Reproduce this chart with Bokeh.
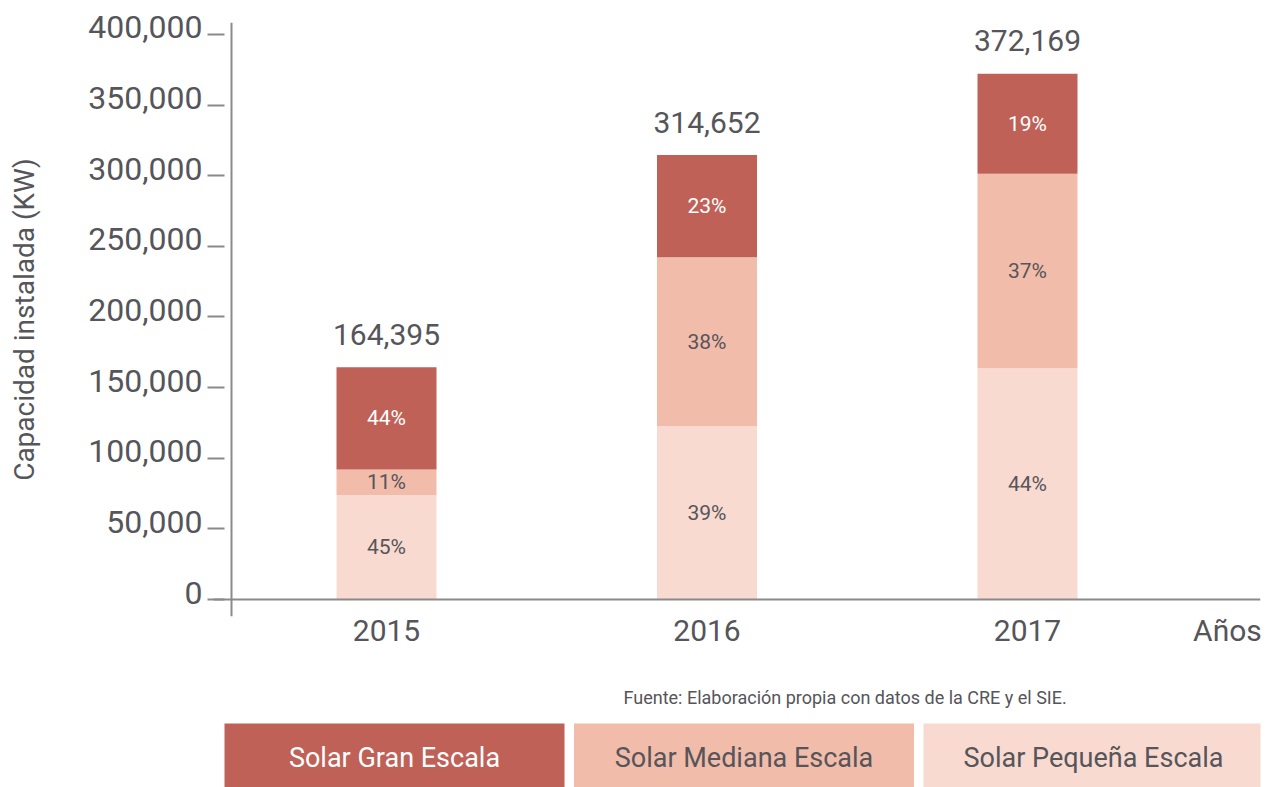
from bokeh.plotting import figure
from bokeh.models import Range1d, FixedTicker, NumeralTickFormatter, Span, ColumnDataSource, LinearAxis
from bokeh.layouts import column
from bokeh.embed import file_html
from bokeh.resources import INLINE
from bokeh.core.properties import value

# ---------------- data ----------------
years = ["2015", "2016", "2017"]
totals = [164395, 314652, 372169]
series = ["Solar Pequeña Escala", "Solar Mediana Escala", "Solar Gran Escala"]  # bottom -> top
pct_pequena = [45, 39, 44]
pct_mediana = [11, 38, 37]
pct_gran = [44, 23, 19]
y_ticks = [0, 50000, 100000, 150000, 200000, 250000, 300000, 350000, 400000]
x_title = "Años"
y_title = "Capacidad instalada (KW)"
source_note = "Fuente: Elaboración propia con datos de la CRE y el SIE."

colors = {"Solar Gran Escala": "#BF6157",
          "Solar Mediana Escala": "#F2BCAA",
          "Solar Pequeña Escala": "#F9DAD1"}
text_colors = {"Solar Gran Escala": "#FFFFFF",
               "Solar Mediana Escala": "#55555A",
               "Solar Pequeña Escala": "#55555A"}
GREY = "#55555A"
LINE = "#8A8A8A"
FONT = "Roboto"

pcts = {"Solar Pequeña Escala": pct_pequena,
        "Solar Mediana Escala": pct_mediana,
        "Solar Gran Escala": pct_gran}

xs = list(range(len(years)))
data = {"x": xs, "total": totals, "label": [f"{t:,}" for t in totals]}
for s in series:
    data[s] = [t * p / 100 for t, p in zip(totals, pcts[s])]
src = ColumnDataSource(data)

# ---------------- main chart ----------------
Y0, Y1 = -12035, 408495
p = figure(width=1270, height=670, output_backend="svg", toolbar_location=None,
           x_range=Range1d(-0.5398, 2.727), y_range=Range1d(Y0, Y1),
           min_border_left=213, min_border_right=10, min_border_top=22, min_border_bottom=54)
p.outline_line_color = None
p.xgrid.visible = False
p.ygrid.visible = False

p.vbar_stack(series, x="x", width=0.312, color=[colors[s] for s in series],
             line_color=None, source=src)

# percentage labels in the middle of each segment
base = [0.0] * len(years)
for s in series:
    vals = data[s]
    mids = [b + v / 2 for b, v in zip(base, vals)]
    p.text(x=xs, y=mids, text=[f"{v}%" for v in pcts[s]], text_align="center",
           text_baseline="middle", text_font=value(FONT), text_font_size="21px",
           text_color=text_colors[s])
    base = [b + v for b, v in zip(base, vals)]

# totals above bars
p.text(x="x", y="total", text="label", source=src, text_align="center",
       text_baseline="alphabetic", y_offset=-33, text_font=value(FONT),
       text_font_size="30px", text_color=GREY)

# axis lines
p.add_layout(Span(location=-0.4836, dimension="height", line_color=LINE, line_width=2))
p.add_layout(Span(location=0, dimension="width", line_color=LINE, line_width=2))

# y axis: inner axis carries the tick marks only
ya = p.yaxis[0]
ya.ticker = FixedTicker(ticks=y_ticks)
ya.axis_line_color = None
ya.major_tick_out = 6
ya.major_tick_in = 11
ya.major_tick_line_color = LINE
ya.major_tick_line_width = 2
ya.minor_tick_line_color = None
ya.major_label_standoff = 0
ya.major_label_text_font_size = "1px"
ya.major_label_text_color = None

# outer axis carries the labels, set slightly above the tick marks
shift = 4956
p.extra_y_ranges = {"lab": Range1d(Y0 - shift, Y1 - shift)}
yb = LinearAxis(y_range_name="lab", ticker=FixedTicker(ticks=y_ticks),
                formatter=NumeralTickFormatter(format="0,0"))
yb.axis_line_color = None
yb.major_tick_out = 0
yb.major_tick_in = 0
yb.minor_tick_line_color = None
yb.major_label_standoff = 5
yb.major_label_text_font = FONT
yb.major_label_text_font_size = "32px"
yb.major_label_text_color = GREY
yb.axis_label = y_title
yb.axis_label_text_font = FONT
yb.axis_label_text_font_size = "28px"
yb.axis_label_text_font_style = "normal"
yb.axis_label_text_color = GREY
yb.axis_label_standoff = 44
p.add_layout(yb, "left")

# x axis (years + axis title)
xa = p.xaxis[0]
anos_pos = 2.624
xa.ticker = FixedTicker(ticks=xs + [anos_pos])
overrides = {i: y for i, y in zip(xs, years)}
overrides[anos_pos] = x_title
xa.major_label_overrides = overrides
xa.axis_line_color = None
xa.major_tick_line_color = None
xa.minor_tick_line_color = None
xa.major_label_standoff = -10
xa.major_label_text_font = FONT
xa.major_label_text_font_size = "30px"
xa.major_label_text_color = GREY

# ---------------- legend + source ----------------
q = figure(width=1270, height=117, output_backend="svg", toolbar_location=None,
           x_range=Range1d(213, 1260), y_range=Range1d(787, 670),
           x_axis_type=None, y_axis_type=None,
           min_border_left=213, min_border_right=10, min_border_top=0, min_border_bottom=0)
q.outline_line_color = None
q.xgrid.visible = False
q.ygrid.visible = False

leg_order = ["Solar Gran Escala", "Solar Mediana Escala", "Solar Pequeña Escala"]
box_w, gap, x0 = 340, 9.5, 224
cx = [x0 + box_w / 2 + i * (box_w + gap) for i in range(len(leg_order))]
q.rect(x=cx, y=[755] * 3, width=box_w, height=64,
       fill_color=[colors[s] for s in leg_order], line_color=None)
q.text(x=cx, y=[757] * 3, text=leg_order, text_align="center", text_baseline="middle",
       text_font=value(FONT), text_font_size="27px",
       text_color=[text_colors[s] for s in leg_order])
q.text(x=[623], y=[697], text=[source_note], text_align="left", text_baseline="middle",
       text_font=value(FONT), text_font_size="18px", text_color=GREY)

layout = column(p, q, spacing=0)
open("out.html", "w").write(file_html(layout, INLINE))
